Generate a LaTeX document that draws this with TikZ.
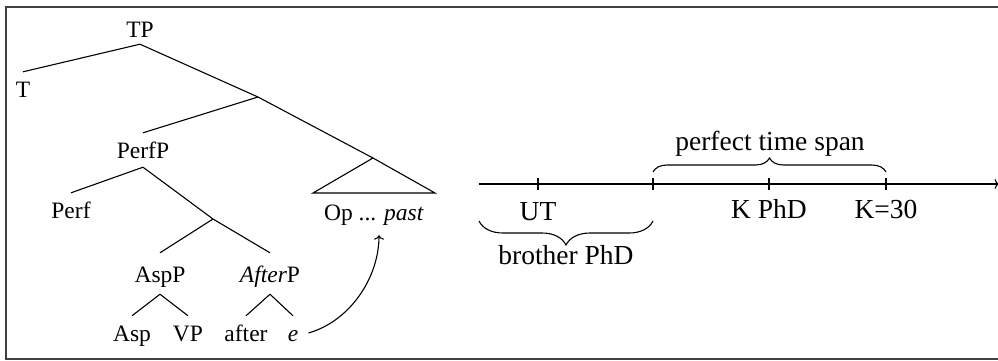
\documentclass[tikz,border=0pt]{standalone}
\usepackage{fontspec}
\setmainfont{Liberation Serif}
\usetikzlibrary{decorations.pathreplacing,arrows.meta}
\begin{document}
\begin{tikzpicture}[x=1pt,y=-1pt,
  lab/.style={anchor=base,inner sep=0pt,text height=25pt,text depth=9pt,font=\fontsize{23.5}{28}\selectfont},
  tl/.style={anchor=base,inner sep=0pt,font=\fontsize{27.5}{33}\selectfont},
  br/.style={line width=1.1pt},
  tip/.style={-{To[length=4.5pt,width=10pt]}},
  frame/.style={line width=1.3pt,black!75},
  bracedec/.style={line width=1.1pt,decorate,decoration={brace,amplitude=#1}}]
\clip (0,0) rectangle (998,360);
\draw[frame] (6,7) rectangle (1012,359);
% tree
\node[lab,text depth=7pt] (TP) at (140,37) {TP};
\node[lab] (T) at (23,97) {T};
\coordinate (b1) at (258,97);
\node[lab] (PerfP) at (143,158) {PerfP};
\coordinate (tri) at (373,158);
\coordinate (triL) at (313,193);
\coordinate (triR) at (435,193);
\node[lab,text depth=15pt] (opp) at (374,220) {Op ... \textit{past}};
\node[lab] (Perf) at (71,218) {Perf};
\coordinate (b2) at (213,219);
\node[lab,text height=29pt,text depth=12pt] (AspP) at (160,282) {AspP};
\node[lab,text height=29pt,text depth=12pt] (AfterP) at (270,282) {\textit{After}P};
\node[lab] (Asp) at (132,341) {Asp};
\node[lab] (VP) at (188,341) {VP};
\node[lab] (after) at (246,341) {after};
\node[lab,inner xsep=10pt] (e) at (293,341) {\textit{e}};
\draw[br] (TP.south) -- (T.north);
\draw[br] (TP.south) -- (b1) -- (tri);
\draw[br] (b1) -- (PerfP.north);
\draw[br] (tri) -- (triL) -- (triR) -- cycle;
\draw[br] (PerfP.south) -- (Perf.north);
\draw[br] (PerfP.south) -- (b2) -- (AfterP.north);
\draw[br] (b2) -- (AspP.north);
\draw[br] (AspP.south) -- (Asp.north);
\draw[br] (AspP.south) -- (VP.north);
\draw[br] (AfterP.south) -- (after.north);
\draw[br] (AfterP.south) -- (e.north);
\draw[br,tip] (e.east) .. controls +(42,-12) and +(0,42) .. ([xshift=5pt]opp.south);
% timeline
\coordinate (t0) at (479,184);
\coordinate (tend) at (999,184);
\coordinate (k1) at (538,184);
\coordinate (k2) at (653,184);
\coordinate (k3) at (769,184);
\coordinate (k4) at (886,184);
\draw[br,tip] (t0) -- (tend);
\foreach \k in {k1,k2,k3,k4} \draw[br] (\k) ++(0,-6) -- ++(0,12);
\node[tl] (UT) at (538,220) {UT};
\node[tl] (KPhD) at (769,218) {K PhD};
\node[tl] (K30) at (886,218) {K=30};
\draw[bracedec=14pt] (653,172) -- (886,172);
\node[tl] (pts) at (770,150) {perfect time span};
\draw[bracedec=24pt] (653,221) -- (479,221);
\node[tl] (bro) at (566,264) {brother PhD};
\end{tikzpicture}
\end{document}
